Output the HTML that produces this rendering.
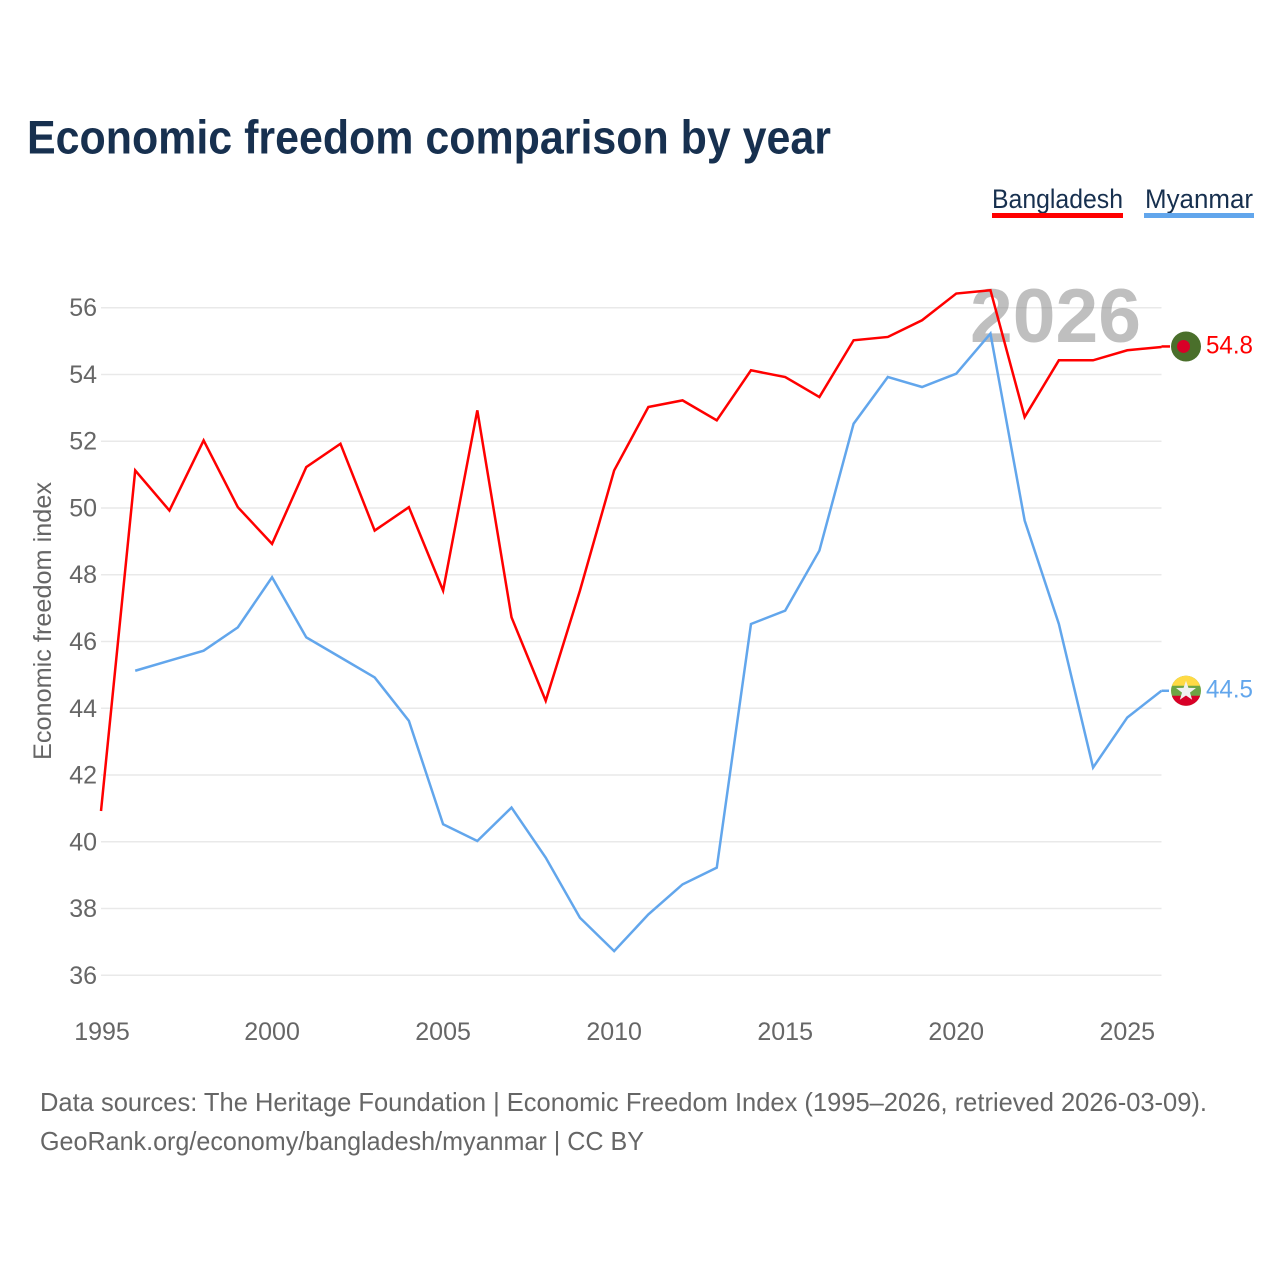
<!DOCTYPE html>
<html lang="en">
<head>
<meta charset="utf-8">
<title>Economic freedom comparison by year</title>
<style>
  html, body { margin: 0; padding: 0; background: #ffffff; }
  svg { display: block; font-family: "Liberation Sans", sans-serif; }
</style>
</head>
<body>
<svg id="chart" xmlns="http://www.w3.org/2000/svg" width="1280" height="1280" viewBox="0 0 1280 1280">
  <rect x="0" y="0" width="1280" height="1280" fill="#ffffff"/>
  <text x="27" y="153.5" font-size="47" font-weight="700" fill="#17304f" textLength="804" lengthAdjust="spacingAndGlyphs">Economic freedom comparison by year</text>

  <g>
    <g>
      <text x="992" y="208" font-size="27" fill="#17304f" textLength="131" lengthAdjust="spacingAndGlyphs">Bangladesh</text>
      <rect x="992" y="213" width="131" height="5" fill="#ff0000"/>
    </g>
    <g>
      <text x="1145" y="208" font-size="27" fill="#17304f" textLength="108" lengthAdjust="spacingAndGlyphs">Myanmar</text>
      <rect x="1144" y="213" width="110" height="5" fill="#62a6ec"/>
    </g>
  </g>

  <g id="grid"></g>
  <text x="1055.5" y="342" text-anchor="middle" font-size="76" font-weight="700" fill="#808080" fill-opacity="0.5" textLength="171" lengthAdjust="spacingAndGlyphs">2026</text>
  <g id="y-ticks"></g>
  <g id="x-ticks"></g>
  <text transform="translate(51 621) rotate(-90)" text-anchor="middle" font-size="25" fill="#666666" textLength="278" lengthAdjust="spacingAndGlyphs">Economic freedom index</text>
  <g id="series"></g>
  <g id="end-labels"></g>

  <text x="40" y="1111" font-size="26" fill="#666666" textLength="1167" lengthAdjust="spacingAndGlyphs">Data sources: The Heritage Foundation | Economic Freedom Index (1995–2026, retrieved 2026-03-09).</text>
  <text x="40" y="1150" font-size="26" fill="#666666" textLength="604" lengthAdjust="spacingAndGlyphs">GeoRank.org/economy/bangladesh/myanmar | CC BY</text>
</svg>

<script>
const years = [1995,1996,1997,1998,1999,2000,2001,2002,2003,2004,2005,2006,2007,2008,2009,2010,2011,2012,2013,2014,2015,2016,2017,2018,2019,2020,2021,2022,2023,2024,2025,2026];
const bangladesh = [40.9,51.1,49.9,52.0,50.0,48.9,51.2,51.9,49.3,50.0,47.5,52.9,46.7,44.2,47.5,51.1,53.0,53.2,52.6,54.1,53.9,53.3,55.0,55.1,55.6,56.4,56.5,52.7,54.4,54.4,54.7,54.8];
const myanmar = [null,45.1,45.4,45.7,46.4,47.9,46.1,45.5,44.9,43.6,40.5,40.0,41.0,39.5,37.7,36.7,37.8,38.7,39.2,46.5,46.9,48.7,52.5,53.9,53.6,54.0,55.2,49.6,46.5,42.2,43.7,44.5];
const yTicks = [36,38,40,42,44,46,48,50,52,54,56];
const xTicks = [1995,2000,2005,2010,2015,2020,2025];

const NS = 'http://www.w3.org/2000/svg';
const plotLeft = 101, plotRight = 1161.5;
const lineLift = 0.8;
const xScale = v => plotLeft + (v - years[0]) * (plotRight - plotLeft) / (years[years.length - 1] - years[0]);
const yScale = v => 975.3 - (v - 36) * 33.38;

function make(tag, attrs, parent) {
  const el = document.createElementNS(NS, tag);
  for (const k in attrs) el.setAttribute(k, attrs[k]);
  parent.appendChild(el);
  return el;
}

const grid = document.getElementById('grid');
const yG = document.getElementById('y-ticks');
yTicks.forEach(t => {
  const line = make('line', {x1: plotLeft, x2: plotRight, y1: yScale(t), y2: yScale(t), stroke: '#e9e9e9', 'stroke-width': 1.5}, grid);
  
  
  const label = make('text', {x: 97, y: yScale(t) + 8.5, 'text-anchor': 'end', 'font-size': 25, fill: '#666666'}, yG);
  
  
  label.textContent = t;
});

const xG = document.getElementById('x-ticks');
xTicks.forEach(t => {
  const label = make('text', {x: xScale(t) + (t === xTicks[0] ? 1 : 0), y: 1040, 'text-anchor': 'middle', 'font-size': 25, fill: '#666666'}, xG);
  
  
  label.textContent = t;
});

function points(values) {
  const out = [];
  values.forEach((v, i) => {
    if (v !== null) out.push(xScale(years[i]).toFixed(2) + ',' + (yScale(v) - lineLift).toFixed(2));
  });
  return out.join(' ');
}

const seriesG = document.getElementById('series');
const myanmarLine = make('polyline', {points: points(myanmar), fill: 'none', stroke: '#62a6ec', 'stroke-width': 2.5, 'stroke-linejoin': 'miter'}, seriesG);


const bangladeshLine = make('polyline', {points: points(bangladesh), fill: 'none', stroke: '#ff0000', 'stroke-width': 2.5, 'stroke-linejoin': 'miter'}, seriesG);



const endG = document.getElementById('end-labels');
const flagX = 1186;
const lastX = xScale(years[years.length - 1]);

// Bangladesh end marker
const bdValue = bangladesh[bangladesh.length - 1];
const bdY = yScale(bdValue) - 1.3;
const bdConnector = make('line', {x1: lastX, x2: 1170, y1: bdY, y2: bdY, stroke: '#ff0000', 'stroke-width': 2.5}, endG);


const bdFlag = make('g', {}, endG);


make('circle', {cx: flagX, cy: bdY, r: 15, fill: '#4a6f2b'}, bdFlag);
make('circle', {cx: flagX - 2.5, cy: bdY, r: 6.5, fill: '#d80027'}, bdFlag);
const bdLabel = make('text', {x: 1206, y: bdY + 7, 'font-size': 25, fill: '#ff0000', textLength: 47, lengthAdjust: 'spacingAndGlyphs'}, endG);


bdLabel.textContent = bdValue.toFixed(1);

// Myanmar end marker
const mmValue = myanmar[myanmar.length - 1];
const mmY = yScale(mmValue) - 0.8;
const mmConnector = make('line', {x1: lastX, x2: 1169, y1: mmY, y2: mmY, stroke: '#62a6ec', 'stroke-width': 2.5}, endG);


const mmFlag = make('g', {}, endG);


const r = 15;
const stripe = (y1, y2, fill) => {
  const a1 = Math.sqrt(r * r - y1 * y1), a2 = Math.sqrt(r * r - y2 * y2);
  make('path', {
    d: 'M' + (flagX - a1) + ' ' + (mmY + y1) + ' A' + r + ' ' + r + ' 0 0 ' + (y1 < y2 ? 0 : 1) + ' ' + (flagX - a2) + ' ' + (mmY + y2) +
       ' L' + (flagX + a2) + ' ' + (mmY + y2) + ' A' + r + ' ' + r + ' 0 0 ' + (y1 < y2 ? 0 : 1) + ' ' + (flagX + a1) + ' ' + (mmY + y1) + ' Z',
    fill: fill
  }, mmFlag);
};
make('circle', {cx: flagX, cy: mmY, r: r, fill: '#6da544'}, mmFlag);
stripe(-5, -15, '#ffda44');
stripe(5, 15, '#d80027');
const starPts = [];
for (let i = 0; i < 10; i++) {
  const rad = i % 2 === 0 ? 10.5 : 4.2;
  const ang = -Math.PI / 2 + i * Math.PI / 5;
  starPts.push((flagX + rad * Math.cos(ang)).toFixed(2) + ',' + (mmY + 0.5 + rad * Math.sin(ang)).toFixed(2));
}
make('polygon', {points: starPts.join(' '), fill: '#f0f0f0'}, mmFlag);
const mmLabel = make('text', {x: 1206, y: mmY + 6.5, 'font-size': 25, fill: '#62a6ec', textLength: 47, lengthAdjust: 'spacingAndGlyphs'}, endG);


mmLabel.textContent = mmValue.toFixed(1);
</script>
</body>
</html>
